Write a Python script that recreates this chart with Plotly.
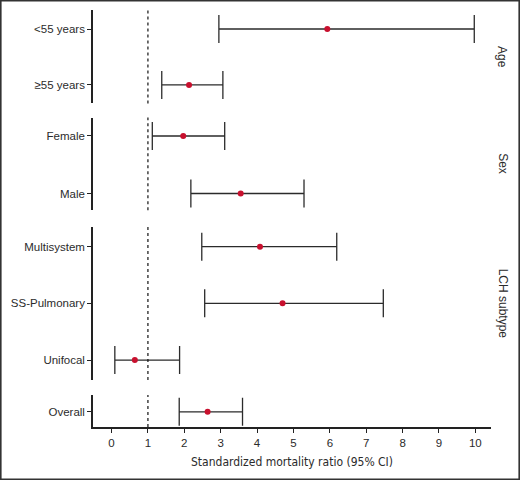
import plotly.graph_objects as go

# Forest plot of standardized mortality ratios, faceted by grouping
groups = ["Age", "Sex", "LCH subtype", "Overall"]
labels = [
    ["<55 years", "≥55 years"],
    ["Female", "Male"],
    ["Multisystem", "SS-Pulmonary", "Unifocal"],
    ["Overall"],
]
smr = [[5.93, 2.13], [1.97, 3.55], [4.08, 4.70, 0.64], [2.64]]
ci_low = [[2.95, 1.38], [1.12, 2.18], [2.48, 2.56, 0.09], [1.86]]
ci_high = [[9.97, 3.06], [3.11, 5.29], [6.19, 7.47, 1.87], [3.60]]
x_ticks = list(range(0, 11))

# panel layout (paper fractions) and y ranges so rows sit where the original has them
domains = [[0.776, 1.0], [0.520, 0.742], [0.113, 0.480], [0.0, 0.0767]]
y_ranges = [[1.33, -0.34], [1.29, -0.32], [2.35, -0.35], [0.265, -0.295]]

TEXT = "#2b2b2b"
LINE = "#222222"
RED = "#c8102e"
FONT = "Liberation Sans, Arial, sans-serif"
NARROW = "Liberation Sans Narrow, Arial Narrow, DejaVu Sans Condensed, sans-serif"

fig = go.Figure()
layout = dict(
    width=520,
    height=480,
    margin=dict(l=93, r=29, t=10, b=53),
    paper_bgcolor="white",
    plot_bgcolor="white",
    showlegend=False,
    font=dict(family=FONT, size=11.5, color=TEXT),
    shapes=[],
    annotations=[],
)

for i, g in enumerate(groups):
    n = i + 1
    yname = "y" if n == 1 else f"y{n}"
    ykey = "yaxis" if n == 1 else f"yaxis{n}"
    lo = [m - l for m, l in zip(smr[i], ci_low[i])]
    hi = [h - m for m, h in zip(smr[i], ci_high[i])]
    fig.add_trace(
        go.Scatter(
            x=smr[i],
            y=labels[i],
            mode="markers",
            xaxis="x",
            yaxis=yname,
            marker=dict(color=RED, size=6),
            error_x=dict(
                type="data",
                symmetric=False,
                array=hi,
                arrayminus=lo,
                color="#2b2b2b",
                thickness=1.3,
                width=14,
            ),
            hoverinfo="x+y",
        )
    )
    layout[ykey] = dict(
        domain=domains[i],
        anchor="x",
        type="category",
        categoryorder="array",
        categoryarray=labels[i],
        range=y_ranges[i],
        showline=True,
        linecolor=LINE,
        linewidth=1.5,
        ticks="outside",
        ticklen=4,
        tickcolor=LINE,
        tickwidth=1.3,
        showgrid=False,
        zeroline=False,
        fixedrange=True,
    )
    # reference line at SMR = 1
    layout["shapes"].append(
        dict(
            type="line",
            xref="x",
            yref=f"{yname} domain",
            x0=1,
            x1=1,
            y0=0,
            y1=1,
            line=dict(color="#111111", width=1.2, dash="3px,3px"),
        )
    )
    if g != "Overall":
        layout["annotations"].append(
            dict(
                text=g,
                xref="paper",
                yref="paper",
                x=(502.7 - 93) / 398,
                y=sum(domains[i]) / 2,
                showarrow=False,
                textangle=90,
                xanchor="center",
                yanchor="middle",
                font=dict(size=12, color=TEXT),
            )
        )

layout["xaxis"] = dict(
    domain=[0, 1],
    anchor="y4",
    range=[-0.51, 10.43],
    tickvals=x_ticks,
    showline=True,
    linecolor=LINE,
    linewidth=1.5,
    ticks="outside",
    ticklen=4,
    tickcolor=LINE,
    tickwidth=1.3,
    showgrid=False,
    zeroline=False,
    title=dict(
        text="Standardized mortality ratio (95% CI)",
        font=dict(family=NARROW, size=12, color=TEXT),
        standoff=10,
    ),
)

# thin frame around the whole figure
layout["shapes"].append(
    dict(
        type="rect",
        xref="paper",
        yref="paper",
        x0=(0.8 - 93) / 398,
        x1=(519.2 - 93) / 398,
        y0=(427 - 479.2) / 417,
        y1=(427 - 0.8) / 417,
        line=dict(color="#333333", width=1.6),
        fillcolor="rgba(0,0,0,0)",
        layer="above",
    )
)

fig.update_layout(**layout)
fig.write_html(
    "out.html",
    config={"displayModeBar": False},
    post_script="document.body.style.margin='0';",
)
